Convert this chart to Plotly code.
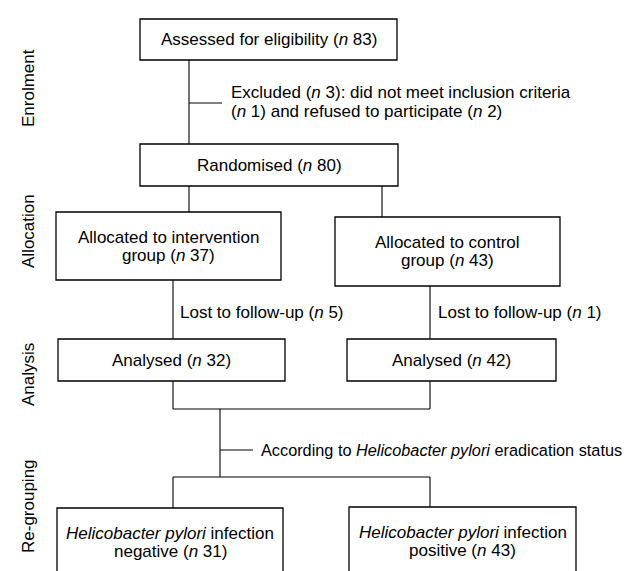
import plotly.graph_objects as go

# ---- data (labels / counts) ----
stages = ["Enrolment", "Allocation", "Analysis", "Re-grouping"]
n_assessed = 83
n_excluded = 3
n_not_meet = 1
n_refused = 2
n_randomised = 80
n_alloc = [37, 43]
n_lost = [5, 1]
n_analysed = [32, 42]
n_hp = [31, 43]

def n(v):
    return f"(<i>n</i> {v})"

# ---- layout geometry (pixels, top-left origin) ----
boxes = [  # x0, x1, y0, y1, text lines
    (132, 389, 11, 52, [f"Assessed for eligibility {n(n_assessed)}"]),
    (132, 390, 136, 178, [f"Randomised {n(n_randomised)}"]),
    (48, 273, 204, 272, ["Allocated to intervention", f"group {n(n_alloc[0])}"]),
    (327, 552, 209, 278, ["Allocated to control", f"group {n(n_alloc[1])}"]),
    (50, 277, 331, 373, [f"Analysed {n(n_analysed[0])}"]),
    (339, 548, 331, 373, [f"Analysed {n(n_analysed[1])}"]),
    (49, 275, 500, 569, ["<i>Helicobacter pylori</i> infection", f"negative {n(n_hp[0])}"]),
    (341, 568, 499, 568, ["<i>Helicobacter pylori</i> infection", f"positive {n(n_hp[1])}"]),
]

connectors = [  # x0, y0, x1, y1
    (181, 52, 181, 136),
    (181, 95, 214, 95),
    (181, 178, 181, 204),
    (374, 178, 374, 209),
    (165, 272, 165, 331),
    (422, 278, 422, 331),
    (165, 373, 165, 401),
    (422, 373, 422, 401),
    (165, 401, 422, 401),
    (212, 401, 212, 469),
    (212, 442, 245, 442),
    (165, 469, 422, 469),
    (165, 469, 165, 500),
    (422, 469, 422, 499),
]

side_texts = [  # text, x, y, size (left-anchored)
    (f"Excluded {n(n_excluded)}: did not meet inclusion criteria", 222, 84, 17),
    (f"{n(n_not_meet)} and refused to participate {n(n_refused)}", 222, 103, 17),
    (f"Lost to follow-up {n(n_lost[0])}", 171, 304, 17),
    (f"Lost to follow-up {n(n_lost[1])}", 429, 304, 17),
    ("According to <i>Helicobacter pylori</i> eradication status", 252, 442, 16.3),
]

stage_y = [80, 223, 367, 498]
stage_x = 20

FONT = "Liberation Sans, Arial, Helvetica, sans-serif"
FS = 17
LINE_H = 18

fig = go.Figure()
fig.add_trace(go.Scatter(x=[], y=[], showlegend=False))

shapes = []
annotations = []

def txt(x, y, t, anchor, size=FS, angle=0):
    annotations.append(dict(x=x, y=y, text=t, showarrow=False, xanchor=anchor,
                            yanchor="middle", borderpad=0, textangle=angle,
                            font=dict(size=size, color="black", family=FONT)))

for x0, x1, y0, y1, lines in boxes:
    shapes.append(dict(type="rect", x0=x0, x1=x1, y0=y0, y1=y1,
                       line=dict(color="black", width=1.3), fillcolor="white", layer="above"))
    cx = (x0 + x1) / 2
    cy = (y0 + y1) / 2
    k = len(lines)
    for i, t in enumerate(lines):
        txt(cx, cy + (i - (k - 1) / 2) * LINE_H, t, "center")
for x0, y0, x1, y1 in connectors:
    shapes.append(dict(type="line", x0=x0, y0=y0, x1=x1, y1=y1,
                       line=dict(color="black", width=1.1), layer="below"))
for t, x, y, s in side_texts:
    txt(x, y, t, "left", size=s)
for t, y in zip(stages, stage_y):
    txt(stage_x, y, t, "center", angle=-90)

fig.update_layout(
    width=637, height=571,
    margin=dict(l=0, r=0, t=0, b=0),
    paper_bgcolor="white", plot_bgcolor="white",
    xaxis=dict(range=[0, 637], visible=False, fixedrange=True),
    yaxis=dict(range=[571, 0], visible=False, fixedrange=True),
    shapes=shapes, annotations=annotations, showlegend=False,
)
fig.write_html("out.html", config={"displayModeBar": False})
